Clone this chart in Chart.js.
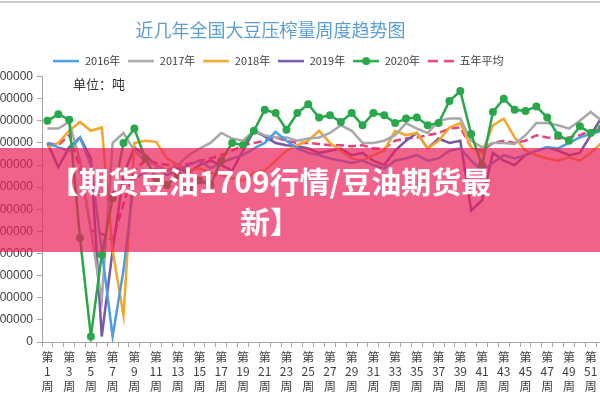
<!DOCTYPE html>
<html>
<head>
<meta charset="utf-8">
<script src="https://cdn.jsdelivr.net/npm/chart.js@4.4.0/dist/chart.umd.min.js"></script>
<style>
  html, body { margin: 0; padding: 0; background: #fff; }
  #wrap { position: relative; width: 600px; height: 400px; overflow: hidden; }
  #frame { position: absolute; left: 0; top: 1px; width: 600px; height: 2px; background: #c9c9c9; }
  #cv { position: absolute; left: -14px; top: 0; }
  #banner { position: absolute; left: 0; top: 148px; width: 600px; height: 104px; background: rgba(235, 31, 88, 0.7); }
  #banner div { position: absolute; left: 45px; top: 12px; width: 450px; text-align: center; color: #fff;
    font: bold 30px "Noto Sans CJK SC"; line-height: 40px; }
</style>
</head>
<body>
<div id="wrap">
  <canvas id="cv" width="640" height="400"></canvas>
  <div id="frame"></div>
  <div id="banner"><div>【期货豆油1709行情/豆油期货最新】</div></div>
</div>
<script>
const weeks = ['第1周','第2周','第3周','第4周','第5周','第6周','第7周','第8周','第9周','第10周',
  '第11周','第12周','第13周','第14周','第15周','第16周','第17周','第18周','第19周','第20周',
  '第21周','第22周','第23周','第24周','第25周','第26周','第27周','第28周','第29周','第30周',
  '第31周','第32周','第33周','第34周','第35周','第36周','第37周','第38周','第39周','第40周',
  '第41周','第42周','第43周','第44周','第45周','第46周','第47周','第48周','第49周','第50周',
  '第51周','第52周'];

const y2016 = [1800000,1760000,1730000,1850000,1600000,830000,50000,650000,1480000,1530000,
  1570000,1510000,1550000,1600000,1640000,1570000,1620000,1660000,1690000,1750000,
  1800000,1900000,1820000,1750000,1710000,1690000,1660000,1640000,1620000,1640000,
  1600000,1570000,1640000,1660000,1690000,1640000,1660000,1730000,1750000,1640000,
  1550000,1620000,1690000,1660000,1690000,1730000,1760000,1750000,1800000,1850000,
  1880000,1910000];
const y2017 = [1930000,1930000,1990000,1640000,1010000,380000,1800000,1890000,1730000,1640000,
  1600000,1550000,1600000,1690000,1750000,1800000,1890000,1840000,1820000,1910000,
  1870000,1850000,1850000,1820000,1840000,1850000,1890000,1960000,1910000,1800000,
  1800000,1820000,1870000,1980000,1930000,1890000,2000000,2020000,2020000,1820000,
  1760000,1800000,1800000,1790000,1870000,1980000,1980000,1960000,1930000,2000000,
  2080000,2000000];
const y2018 = [1760000,1800000,1910000,1990000,1910000,1940000,830000,240000,1800000,1820000,
  1810000,1660000,1600000,1550000,1570000,1530000,1510000,1480000,1460000,1530000,
  1550000,1640000,1730000,1780000,1820000,1910000,1800000,1730000,1660000,1640000,
  1690000,1730000,1910000,1870000,1890000,1750000,1820000,1940000,1980000,1760000,
  1710000,1960000,2020000,1850000,1730000,1690000,1660000,1640000,1670000,1640000,
  1710000,1800000];
const y2019 = [1800000,1580000,1760000,1850000,1660000,50000,830000,1510000,1760000,1690000,
  1600000,1550000,1570000,1530000,1600000,1640000,1600000,1550000,1730000,1910000,
  1860000,1800000,1780000,1770000,1750000,1710000,1730000,1750000,1690000,1710000,
  1640000,1600000,1730000,1820000,1890000,1750000,1840000,1800000,1820000,1190000,
  1280000,1710000,1640000,1600000,1690000,1730000,1760000,1730000,1690000,1710000,
  1870000,2030000];
const y2020 = [2000000,2060000,2010000,940000,50000,790000,1300000,1800000,1930000,1660000,
  1480000,1420000,1510000,1370000,1460000,1420000,1640000,1800000,1780000,1910000,
  2100000,2070000,1920000,2070000,2150000,2030000,2050000,1990000,2070000,1960000,
  2070000,2050000,1980000,2020000,2030000,1960000,1980000,2180000,2270000,1880000,
  1600000,2080000,2200000,2100000,2090000,2130000,2030000,1870000,1820000,1950000,
  1890000,1930000];
const yAvg = [1800000,1780000,1870000,1580000,1010000,980000,920000,1250000,1550000,1640000,
  1620000,1600000,1600000,1610000,1640000,1660000,1690000,1730000,1780000,1800000,
  1820000,1850000,1820000,1800000,1800000,1790000,1780000,1780000,1770000,1780000,
  1750000,1750000,1820000,1840000,1850000,1870000,1890000,1930000,1940000,1760000,
  1730000,1800000,1820000,1800000,1820000,1870000,1850000,1840000,1850000,1870000,
  1910000,1930000];

const names = ['2016年', '2017年', '2018年', '2019年', '2020年', '五年平均'];
const colors = ['#4a9de6', '#a8a8a8', '#f5a52a', '#7858a6', '#28a84a', '#e8407c'];

// little line swatches for the legend (Excel style)
function swatch(color, dashed, dot) {
  const c = document.createElement('canvas');
  c.width = 26; c.height = 12;
  const g = c.getContext('2d');
  g.strokeStyle = color; g.lineWidth = 2.5;
  if (dashed) g.setLineDash([10, 6]);
  g.beginPath(); g.moveTo(0, 6); g.lineTo(26, 6); g.stroke();
  if (dot) { g.fillStyle = color; g.beginPath(); g.arc(13, 6, 4, 0, Math.PI * 2); g.fill(); }
  return c;
}
const swatches = colors.map((c, i) => swatch(c, i === 5, i === 4));

// nudges title / legend sideways (the original picture is cropped)
const shiftBlocks = {
  id: 'shiftBlocks',
  afterLayout(chart, args, opts) {
    const t = chart.titleBlock, l = chart.legend;
    if (t) { t.left += opts.title; t.right += opts.title; }
    if (l) { l.left += opts.legend; l.right += opts.legend; }
  }
};

const unitLabel = {
  id: 'unitLabel',
  afterDraw(chart) {
    const { ctx, chartArea } = chart;
    ctx.save();
    ctx.font = '13px "Noto Sans CJK SC"';
    ctx.fillStyle = '#333';
    ctx.textBaseline = 'middle';
    ctx.fillText('单位：吨', chartArea.left + 31, chartArea.top + 7);
    ctx.restore();
  }
};

const series = [y2016, y2017, y2018, y2019, y2020, yAvg];
const datasets = series.map((d, i) => ({
  label: names[i],
  data: d,
  borderColor: colors[i],
  backgroundColor: colors[i],
  borderWidth: 2.5,
  borderDash: i === 5 ? [8, 4] : [],
  pointRadius: i === 4 ? 4 : 0,
  pointBorderWidth: 0,
  pointBackgroundColor: colors[i],
  tension: 0,
  order: i === 4 ? -1 : 0
}));

new Chart(document.getElementById('cv'), {
  type: 'line',
  data: { labels: weeks, datasets: datasets },
  options: {
    responsive: false,
    animation: false,
    devicePixelRatio: 1,
    layout: { padding: { left: 0, right: 19, top: 0, bottom: 0 } },
    plugins: {
      tooltip: { enabled: false },
      title: {
        display: true,
        text: '近几年全国大豆压榨量周度趋势图',
        color: '#5a9fd4',
        font: { family: '"Noto Sans CJK SC"', size: 18, weight: 'normal' },
        padding: { top: 19, bottom: 7 }
      },
      legend: {
        display: true,
        labels: {
          usePointStyle: true,
          pointStyleWidth: 26,
          padding: 8,
          color: '#404040',
          font: { family: '"Noto Sans CJK SC"', size: 11 },
          sort: (a, b) => a.datasetIndex - b.datasetIndex,
          generateLabels(chart) {
            const items = Chart.defaults.plugins.legend.labels.generateLabels(chart);
            items.forEach(it => { it.pointStyle = swatches[it.datasetIndex]; });
            return items;
          }
        }
      },
      shiftBlocks: { title: -26, legend: -18 }
    },
    scales: {
      x: {
        offset: true,
        afterFit(scale) { scale.height = 58; },
        grid: { offset: true, drawOnChartArea: false, drawTicks: true, tickLength: 5, tickColor: '#a6a6a6' },
        border: { color: '#a6a6a6', width: 1 },
        ticks: {
          autoSkip: false, maxRotation: 0, minRotation: 0, padding: 3,
          color: '#404040',
          font: { family: '"Noto Sans CJK SC"', size: 12, lineHeight: 1.2 },
          callback(v, i) {
            const w = weeks[i];
            return i % 2 === 0 ? ['第', w.slice(1, -1), '周'] : '';
          }
        }
      },
      y: {
        min: 0, max: 2400000,
        afterFit(scale) { scale.width = 56; },
        grid: { drawOnChartArea: false, drawTicks: true, tickLength: 5, tickColor: '#a6a6a6' },
        border: { color: '#a6a6a6', width: 1 },
        ticks: {
          stepSize: 200000, padding: 4,
          color: '#404040',
          font: { family: '"Liberation Sans"', size: 12 },
          callback: v => String(v)
        }
      }
    }
  },
  plugins: [shiftBlocks, unitLabel]
});
</script>
</body>
</html>
